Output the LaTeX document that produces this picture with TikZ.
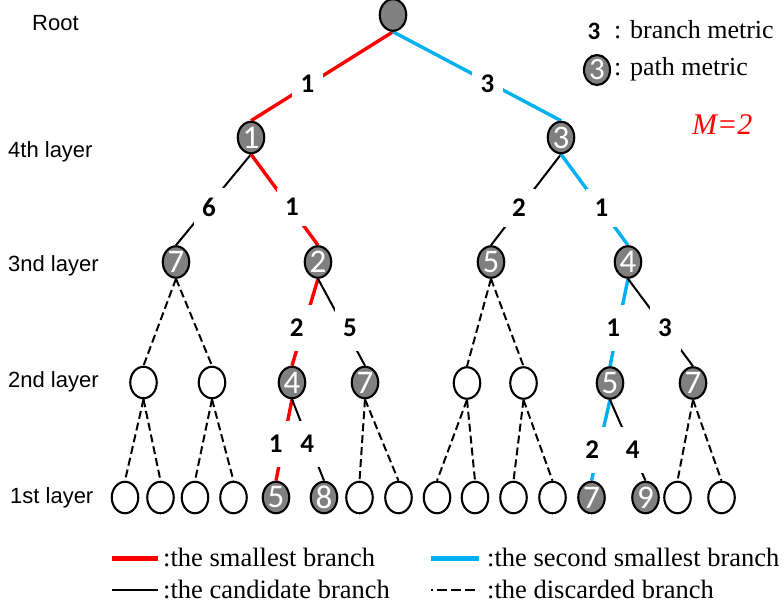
\documentclass[tikz,border=0pt]{standalone}
\usepackage{fontspec}
\setmainfont{Liberation Serif}
\newfontfamily\arialf{Liberation Sans}
\newfontfamily\calf{Carlito}
\usetikzlibrary{shapes.geometric,backgrounds}
\definecolor{redb}{RGB}{255,0,0}
\definecolor{blueb}{RGB}{0,176,240}
\definecolor{nodegray}{RGB}{128,128,128}
\begin{document}
\begin{tikzpicture}[x=1pt,y=-1pt,
  tn/.style={ellipse, draw=black, line width=2.1pt, minimum width=26.5pt, minimum height=31.5pt, inner sep=0pt},
  pm/.style={tn, fill=nodegray},
  em/.style={tn, fill=white},
  dig/.style={text=white, font=\calf\fontsize{33}{33}\selectfont, inner sep=0pt},
  rb/.style={draw=redb, line width=3.4pt},
  bb/.style={draw=blueb, line width=3.4pt},
  kb/.style={draw=black, line width=2pt},
  db/.style={draw=black, line width=2pt, dash pattern=on 8pt off 4pt},
  bm/.style={fill=white, inner sep=0pt, minimum width=31pt, minimum height=38pt, font=\calf\bfseries\fontsize{27}{27}\selectfont},
  bml/.style={bm, minimum height=46pt},
  lay/.style={anchor=base west, inner sep=0pt, font=\arialf\fontsize{22}{22}\selectfont},
  leg/.style={anchor=base west, inner sep=0pt, font=\fontsize{26.5}{26.5}\selectfont},
  legt/.style={anchor=base west, inner sep=0pt, font=\fontsize{26}{26}\selectfont}
]
\useasboundingbox (0,0) rectangle (784,609);

% layer labels
\node[lay] (tRoot) at (32,31) {Root};
\node[lay] (t4) at (8,158) {4th layer};
\node[lay] (t3) at (8,272) {3nd layer};
\node[lay] (t2) at (8,387) {2nd layer};
\node[lay] (t1) at (10,503) {1st layer};

% tree nodes
\node[pm] (root) at (393,15) {};
\node[pm, label={[dig]center:1}] (a1) at (251,137.5) {};
\node[pm, label={[dig]center:3}] (a3) at (561,137.5) {};

\node[pm, label={[dig]center:7}] (b7) at (176,262) {};
\node[pm, label={[dig]center:2}] (b2) at (318,262) {};
\node[pm, label={[dig]center:5}] (b5) at (491,262) {};
\node[pm, label={[dig]center:4}] (b4) at (628,262) {};

\node[em] (c1) at (143.5,382.5) {};
\node[em] (c2) at (212,382.5) {};
\node[pm, label={[dig]center:4}] (c3) at (292,382.5) {};
\node[pm, label={[dig]center:7}] (c4) at (365,382.5) {};
\node[em] (c5) at (467,383) {};
\node[em] (c6) at (523.5,383) {};
\node[pm, label={[dig]center:5}] (c7) at (610,383) {};
\node[pm, label={[dig]center:7}] (c8) at (693,383) {};

\node[em] (d1) at (125,497.5) {};
\node[em] (d2) at (160.5,497.5) {};
\node[em] (d3) at (195,497.5) {};
\node[em] (d4) at (233.5,497.5) {};
\node[pm, label={[dig]center:5}] (d5) at (276,497.5) {};
\node[pm, label={[dig]center:8}] (d6) at (324,497.5) {};
\node[em] (d7) at (359.5,497.5) {};
\node[em] (d8) at (398.5,497.5) {};
\node[em] (d9) at (437,497.5) {};
\node[em] (d10) at (475,497.5) {};
\node[em] (d11) at (513.5,497.5) {};
\node[em] (d12) at (552.5,497.5) {};
\node[pm, label={[dig]center:7}] (d13) at (591.5,497.5) {};
\node[pm, label={[dig]center:9}] (d14) at (645.5,497.5) {};
\node[em] (d15) at (677.5,497.5) {};
\node[em] (d16) at (721.5,497.5) {};

\begin{scope}[on background layer]
  \draw[rb] (root.south) -- (a1.north);
  \draw[bb] (root.south) -- (a3.north);
  \draw[kb] (a1.south) -- (b7.north);
  \draw[rb] (a1.south) -- (b2.north);
  \draw[kb] (a3.south) -- (b5.north);
  \draw[bb] (a3.south) -- (b4.north);
  \draw[db] (b7.south) -- (c1.north);
  \draw[db] (b7.south) -- (c2.north);
  \draw[rb] (b2.south) -- (c3.north);
  \draw[kb] (b2.south) -- (c4.north);
  \draw[db] (b5.south) -- (c5.north);
  \draw[db] (b5.south) -- (c6.north);
  \draw[bb] (b4.south) -- (c7.north);
  \draw[kb] (b4.south) -- (c8.north);
  \draw[db] (c1.south) -- (d1.north);
  \draw[db] (c1.south) -- (d2.north);
  \draw[db] (c2.south) -- (d3.north);
  \draw[db] (c2.south) -- (d4.north);
  \draw[rb] (c3.south) -- (d5.north);
  \draw[kb] (c3.south) -- (d6.north);
  \draw[db] (c4.south) -- (d7.north);
  \draw[db] (c4.south) -- (d8.north);
  \draw[db] (c5.south) -- (d9.north);
  \draw[db] (c5.south) -- (d10.north);
  \draw[db] (c6.south) -- (d11.north);
  \draw[db] (c6.south) -- (d12.north);
  \draw[bb] (c7.south) -- (d13.north);
  \draw[kb] (c7.south) -- (d14.north);
  \draw[db] (c8.south) -- (d15.north);
  \draw[db] (c8.south) -- (d16.north);
  % branch metric labels
  \node[bm] (l01) at (307.5,84) {1};
  \node[bm] (l02) at (487.5,84) {3};
  \node[bm] (l03) at (209,207) {6};
  \node[bm] (l04) at (292,207) {1};
  \node[bm] (l05) at (519,208) {2};
  \node[bm] (l06) at (601.5,208) {1};
  \node[bml] (l07) at (296.7,328) {2};
  \node[bml] (l08) at (350,328) {5};
  \node[bml] (l09) at (613.3,328) {1};
  \node[bml] (l10) at (665,328) {3};
  \node[bml] (l11) at (275.7,444) {1};
  \node[bml] (l12) at (307.3,444) {4};
  \node[bml] (l13) at (592.3,450) {2};
  \node[bml] (l14) at (632.7,450) {4};
\end{scope}

% top-right legend
\node[inner sep=0pt, font=\calf\bfseries\fontsize{25}{25}\selectfont] (lg3) at (594,31.7) {3};
\node[legt] (lgt1) at (614,38.5) {: branch metric};
\node[pm, minimum width=26pt, minimum height=30pt, label={[dig, font=\calf\fontsize{31}{31}\selectfont]center:3}] (lgn) at (597,70) {};
\node[legt] (lgt2) at (614,76) {: path metric};
\node[anchor=base west, inner sep=0pt, text=redb, font=\itshape\fontsize{30}{30}\selectfont] (mm) at (692,135) {M=2};

% bottom legend
\coordinate (lr1) at (112,558); \coordinate (lr2) at (158,558);
\coordinate (lb1) at (431,558); \coordinate (lb2) at (479,558);
\coordinate (lk1) at (112,590); \coordinate (lk2) at (158,590);
\coordinate (ld1) at (431,590); \coordinate (ld2) at (479,590);
\draw[draw=redb, line width=5pt] (lr1) -- (lr2);
\draw[draw=blueb, line width=5pt] (lb1) -- (lb2);
\draw[draw=black, line width=2pt] (lk1) -- (lk2);
\draw[draw=black, line width=2pt, dash pattern=on 2pt off 4pt on 10pt off 4pt on 10pt off 4pt on 10pt off 4pt] (ld1) -- (ld2);
\node[leg] (lt1) at (163,566) {:the smallest branch};
\node[leg] (lt2) at (487,566) {:the second smallest branch};
\node[leg] (lt3) at (163,598) {:the candidate branch};
\node[leg] (lt4) at (487,598) {:the discarded branch};
\end{tikzpicture}
\end{document}
